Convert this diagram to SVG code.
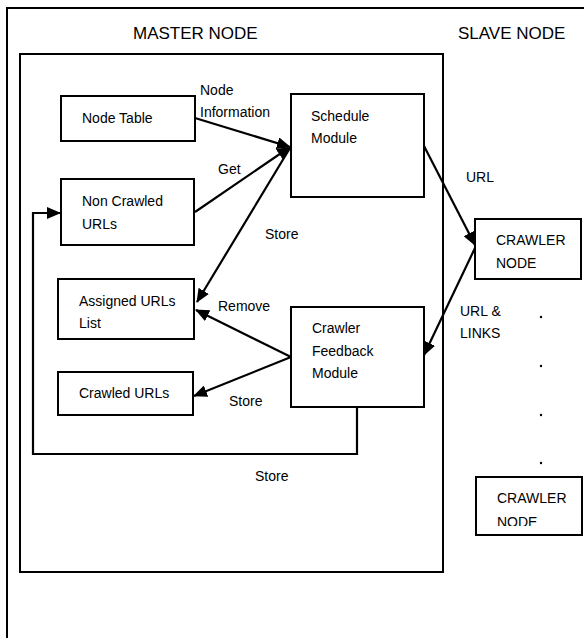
<svg xmlns="http://www.w3.org/2000/svg" width="584" height="638" viewBox="0 0 584 638">
<style>
.box{fill:#fff;stroke:#000;stroke-width:2}
.frame{fill:none;stroke:#000;stroke-width:2}
.t{font-family:"Liberation Sans",Arial,sans-serif;font-size:14px;fill:#000}
.h{font-family:"Liberation Sans",Arial,sans-serif;font-size:17px;fill:#000}
.c{fill:none;stroke:#000;stroke-width:2.2}
</style>
<defs>
<marker id="ah" markerUnits="userSpaceOnUse" markerWidth="14" markerHeight="12" refX="13" refY="6" orient="auto">
<path d="M0,0 L14,6 L0,12 z" fill="#000"/>
</marker>
<clipPath id="clip2"><rect x="470" y="470" width="114" height="56"/></clipPath>
</defs>
<rect width="584" height="638" fill="#fff"/>
<g id="frame">
<path class="frame" d="M7,638 L7,8 L584,8"/>
<text class="h" x="133" y="39">MASTER NODE</text>
<text class="h" x="458" y="39">SLAVE NODE</text>
</g>
<g id="master">
<rect class="box" x="20" y="54" width="423" height="518"/>
</g>
<g id="connectors">
<line class="c" x1="195" y1="118" x2="290" y2="147" marker-end="url(#ah)"/>
<line class="c" x1="195" y1="212" x2="290" y2="147" marker-end="url(#ah)"/>
<line class="c" x1="290" y1="148" x2="197" y2="302" marker-end="url(#ah)"/>
<line class="c" x1="291" y1="357" x2="196" y2="310" marker-end="url(#ah)"/>
<line class="c" x1="291" y1="357" x2="194" y2="396" marker-end="url(#ah)"/>
<line class="c" x1="424" y1="146" x2="475" y2="245" marker-end="url(#ah)"/>
<line class="c" x1="475" y1="248" x2="424" y2="355" marker-end="url(#ah)"/>
<path class="c" d="M357,407 L357,454 L33,454 L33,213 L60,213" marker-end="url(#ah)"/>
<text class="t" x="200" y="95">Node</text>
<text class="t" x="200" y="117">Information</text>
<text class="t" x="218" y="174">Get</text>
<text class="t" x="265" y="239">Store</text>
<text class="t" x="218" y="311">Remove</text>
<text class="t" x="229" y="406">Store</text>
<text class="t" x="255" y="481">Store</text>
<text class="t" x="466" y="182">URL</text>
<text class="t" x="460" y="316">URL &amp;</text>
<text class="t" x="460" y="338">LINKS</text>
</g>
<g id="node-table">
<rect class="box" x="61" y="96" width="134" height="45"/>
<text class="t" x="82" y="123">Node Table</text>
</g>
<g id="schedule-module">
<rect class="box" x="291" y="94" width="133" height="103"/>
<text class="t" x="311" y="121">Schedule</text>
<text class="t" x="311" y="143">Module</text>
</g>
<g id="non-crawled">
<rect class="box" x="61" y="179" width="133" height="66"/>
<text class="t" x="82" y="206">Non Crawled</text>
<text class="t" x="82" y="229">URLs</text>
</g>
<g id="assigned">
<rect class="box" x="58" y="279" width="136" height="60"/>
<text class="t" x="79" y="306">Assigned URLs</text>
<text class="t" x="79" y="328">List</text>
</g>
<g id="crawled">
<rect class="box" x="58" y="372" width="135" height="43"/>
<text class="t" x="79" y="398">Crawled URLs</text>
</g>
<g id="feedback">
<rect class="box" x="291" y="307" width="133" height="100"/>
<text class="t" x="312" y="333">Crawler</text>
<text class="t" x="312" y="356">Feedback</text>
<text class="t" x="312" y="378">Module</text>
</g>
<g id="crawler1">
<rect class="box" x="475" y="219" width="106" height="60"/>
<text class="t" x="496" y="245">CRAWLER</text>
<text class="t" x="496" y="268">NODE</text>
</g>
<g id="dots">
<circle cx="541" cy="317" r="1.2" fill="#000"/>
<circle cx="541" cy="366" r="1.2" fill="#000"/>
<circle cx="541" cy="415" r="1.2" fill="#000"/>
<circle cx="541" cy="463" r="1.2" fill="#000"/>
</g>
<g id="crawler2">
<rect class="box" x="476" y="477" width="106" height="58"/>
<text class="t" x="497" y="503">CRAWLER</text>
<text class="t" x="497" y="527" clip-path="url(#clip2)">NODE</text>
</g>
</svg>
